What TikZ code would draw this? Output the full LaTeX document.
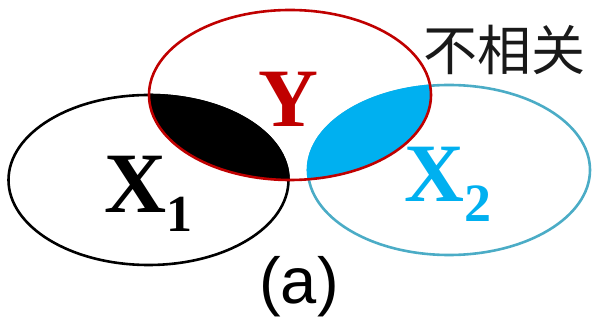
\documentclass[tikz,border=0pt]{standalone}
\usepackage{fontspec}
\setmainfont{Liberation Serif}
\setsansfont{Liberation Sans}
\newfontfamily\cjk{Noto Sans CJK SC}
\definecolor{yred}{HTML}{C00000}
\definecolor{xcyan}{HTML}{00B0F0}
\definecolor{xteal}{HTML}{4BACC6}
\begin{document}
\begin{tikzpicture}[x=1pt,y=-1pt,
  ell/.style={line width=2.6pt},
  lbl/.style={inner sep=0pt, anchor=base west, font=\bfseries}]
\useasboundingbox (0,0) rectangle (598,320);
\coordinate (cY) at (290,95);
\coordinate (cA) at (148.5,180);
\coordinate (cB) at (449,170);
% outlines of X1 and X2
\draw[ell, black] (cA) ellipse [x radius=140, y radius=85];
\draw[ell, xteal] (cB) ellipse [x radius=141, y radius=85];
% overlaps
\begin{scope}
  \clip (cY) ellipse [x radius=141, y radius=85];
  \fill[black] (cA) ellipse [x radius=141.3, y radius=86.3];
  \fill[xcyan] (cB) ellipse [x radius=142.3, y radius=86.3];
\end{scope}
% outline of Y
\draw[ell, yred] (cY) ellipse [x radius=141, y radius=85];
% labels
\node[lbl, anchor=base, text=yred, font=\fontsize{83}{83}\selectfont\bfseries] (ly) at (288,127) {Y};
\node[lbl, text=black, font=\fontsize{86}{86}\selectfont\bfseries] (lx1) at (104,213)
  {X\raisebox{-19pt}{\fontsize{52}{52}\selectfont 1}};
\node[lbl, text=xcyan, font=\fontsize{83}{83}\selectfont\bfseries] (lx2) at (404,202)
  {X\raisebox{-20pt}{\fontsize{54}{54}\selectfont 2}};
\node[inner sep=0pt, anchor=base west, text=black!90, font=\fontsize{54}{54}\selectfont\cjk] (lu) at (423,71) {不相关};
\node[inner sep=0pt, anchor=base, font=\fontsize{65}{65}\selectfont\sffamily] (la) at (299,304) {(a)};
\end{tikzpicture}
\end{document}
